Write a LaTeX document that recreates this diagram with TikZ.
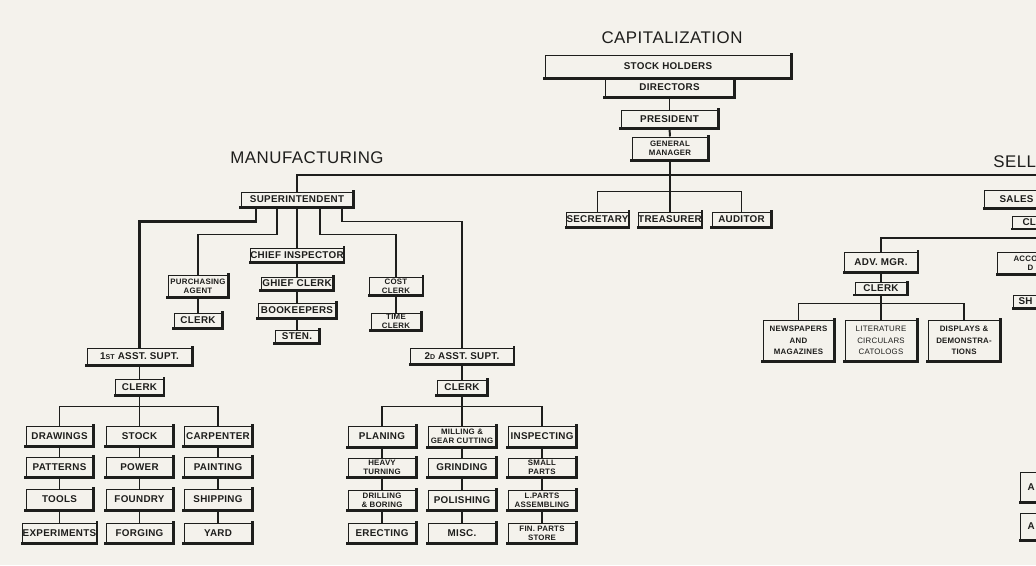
\documentclass[tikz,border=0pt]{standalone}
\usepackage{fontspec}
\newfontfamily\chartfont[LetterSpace=3.0]{Liberation Sans}
\definecolor{paper}{RGB}{244, 242, 236}
\definecolor{ink}{RGB}{30, 30, 28}

\begin{document}
\begin{tikzpicture}[x = 0.025cm, y = -0.025cm,
  thickside/.style = {draw = ink, line width = 1.5pt, line cap = rect},
  box/.style = {draw = ink, line width = 0.7pt, fill = paper, inner sep = 0pt, align = center,
    text = ink, font = \chartfont\bfseries\fontsize{7}{8}\selectfont,
    append after command = {(\tikzlastnode.north east) edge [thickside] (\tikzlastnode.south east)
      (\tikzlastnode.south east) edge [thickside] (\tikzlastnode.south west)}},
  boxsize/.style 2 args = {minimum width = #1*0.025cm, minimum height = #2*0.025cm},
  smalltext/.style = {font = \chartfont\bfseries\fontsize{5.6}{6.4}\selectfont},
  listtext/.style = {font = \chartfont\bfseries\fontsize{5.6}{8}\selectfont},
  cutbox/.style = {anchor = west, align = left, text width = 2cm},
  heading/.style = {font = \chartfont\fontsize{12}{14}\selectfont, text = ink},
  trunk/.style = {draw = ink, line width = 2pt},
  limb/.style = {draw = ink, line width = 1.4pt},
  twig/.style = {draw = ink, line width = 0.9pt}]
\useasboundingbox (0, 0) rectangle (1036, 565);
\clip (0, 0) rectangle (1036, 565);
\fill [paper] (0, 0) rectangle (1036, 565);
%\draw [very thin, color = gray, step = 50] (0, 0) grid (1036, 565);

% top
\node [heading] (captitle) at (672, 38) {CAPITALIZATION};
\node [box, boxsize = {129}{19}] (directors) at (669.5, 87.5) {DIRECTORS};
\node [box, boxsize = {246}{23}] (stockholders) at (668, 66.5) {STOCK HOLDERS};
\node [box, boxsize = {97}{18}] (president) at (669.5, 119) {PRESIDENT};
\node [box, smalltext, boxsize = {76}{23}] (genmanager) at (670, 148.5) {GENERAL\\MANAGER};
\node [box, boxsize = {61}{15}] (secretary) at (597.5, 219.5) {SECRETARY};
\node [box, boxsize = {61}{15}] (treasurer) at (670, 219.5) {TREASURER};
\node [box, boxsize = {59}{15}] (auditor) at (741.5, 219.5) {AUDITOR};

% manufacturing
\node [heading] (manufacturing) at (307, 158) {MANUFACTURING};
\node [box, boxsize = {112}{15}] (superintendent) at (297, 199.5) {SUPERINTENDENT};
\node [box, smalltext, boxsize = {60}{22}] (purchasing) at (198, 286) {PURCHASING\\AGENT};
\node [box, boxsize = {48}{15}] (purchclerk) at (198, 320.5) {CLERK};
\node [box, boxsize = {86}{14}] (chiefinsp) at (297, 255) {CHIEF INSPECTOR};
\node [box, boxsize = {72}{13}] (chiefclerk) at (297, 283.5) {GHIEF CLERK};
\node [box, boxsize = {78}{15}] (bookkeepers) at (297, 310.5) {BOOKEEPERS};
\node [box, boxsize = {44}{13}] (sten) at (297, 336.5) {STEN.};
\node [box, smalltext, boxsize = {53}{18}] (costclerk) at (396, 286) {COST\\CLERK};
\node [box, smalltext, boxsize = {50}{17}] (timeclerk) at (396, 321.5) {TIME\\CLERK};

\node [box, boxsize = {105}{17}] (firstasst) at (139.5, 356.5) {1{\fontsize{5}{6}\selectfont ST} ASST. SUPT.};
\node [box, boxsize = {48}{16}] (firstclerk) at (139.5, 387) {CLERK};
\node [box, boxsize = {67}{20}] (drawings) at (59.5, 436) {DRAWINGS};
\node [box, boxsize = {67}{20}] (patterns) at (59.5, 467) {PATTERNS};
\node [box, boxsize = {67}{21}] (tools) at (59.5, 499.5) {TOOLS};
\node [box, boxsize = {67}{20}] (experiments) at (59.5, 533) {EXPERIMENTS};
\node [box, boxsize = {67}{20}] (stock) at (139.5, 436) {STOCK};
\node [box, boxsize = {67}{20}] (power) at (139.5, 467) {POWER};
\node [box, boxsize = {67}{21}] (foundry) at (139.5, 499.5) {FOUNDRY};
\node [box, boxsize = {67}{20}] (forging) at (139.5, 533) {FORGING};
\node [box, boxsize = {68}{20}] (carpenter) at (218, 436) {CARPENTER};
\node [box, boxsize = {68}{20}] (painting) at (218, 467) {PAINTING};
\node [box, boxsize = {68}{21}] (shipping) at (218, 499.5) {SHIPPING};
\node [box, boxsize = {68}{20}] (yard) at (218, 533) {YARD};

\node [box, boxsize = {103}{16}] (secondasst) at (462, 356) {2{\fontsize{5}{6}\selectfont D} ASST. SUPT.};
\node [box, boxsize = {50}{15}] (secondclerk) at (462, 387.5) {CLERK};
\node [box, boxsize = {68}{21}] (planing) at (382, 436.5) {PLANING};
\node [box, smalltext, boxsize = {68}{19}] (heavyturn) at (382, 467.5) {HEAVY\\TURNING};
\node [box, smalltext, boxsize = {68}{20}] (drilling) at (382, 500) {DRILLING\\\& BORING};
\node [box, boxsize = {68}{20}] (erecting) at (382, 533) {ERECTING};
\node [box, smalltext, boxsize = {68}{21}] (milling) at (462, 436.5) {MILLING \&\\GEAR CUTTING};
\node [box, boxsize = {68}{19}] (grinding) at (462, 467.5) {GRINDING};
\node [box, boxsize = {68}{20}] (polishing) at (462, 500) {POLISHING};
\node [box, boxsize = {68}{20}] (misc) at (462, 533) {MISC.};
\node [box, boxsize = {68}{21}] (inspecting) at (542, 436.5) {INSPECTING};
\node [box, smalltext, boxsize = {68}{19}] (smallparts) at (542, 467.5) {SMALL\\PARTS};
\node [box, smalltext, boxsize = {68}{20}] (lparts) at (542, 500) {L.PARTS\\ASSEMBLING};
\node [box, smalltext, boxsize = {68}{20}] (finparts) at (542, 533) {FIN. PARTS\\STORE};

% selling
\node [heading, anchor = west, inner xsep = 0pt] (selling) at (993, 162) {SELL};
\node [box, cutbox, inner xsep = 0.375cm, boxsize = {0}{18}] (salesmgr) at (984, 199) {SALES};
\node [box, cutbox, inner xsep = 0.25cm, boxsize = {0}{12}] (salesclerk) at (1012, 222.5) {CL};
\node [box, cutbox, smalltext, inner xsep = 0.4cm, boxsize = {0}{22}] (accounts) at (997, 263) {ACCO\\\hspace*{10pt}D};
\node [box, cutbox, inner xsep = 0.125cm, boxsize = {0}{13}] (shipdept) at (1013, 301.5) {SH};
\node [box, cutbox, inner xsep = 0.175cm, boxsize = {0}{30}] (agentone) at (1020, 487) {A};
\node [box, cutbox, inner xsep = 0.175cm, boxsize = {0}{27}] (agenttwo) at (1020, 526.5) {A};
\node [box, boxsize = {73}{20}] (advmgr) at (881, 262) {ADV. MGR.};
\node [box, boxsize = {52}{12}] (advclerk) at (881, 288.5) {CLERK};
\node [box, listtext, boxsize = {71}{41}] (newspapers) at (798.5, 340.5) {NEWSPAPERS\\AND\\MAGAZINES};
\node [box, listtext, font = \chartfont\fontsize{5.6}{8}\selectfont, boxsize = {72}{41}] (literature) at (881, 340.5) {LITERATURE\\CIRCULARS\\CATOLOGS};
\node [box, listtext, boxsize = {72}{41}] (displays) at (964, 340.5) {DISPLAYS \&\\DEMONSTRA-\\TIONS};

% lines
\coordinate (mainend) at (1036, 175);
\coordinate (sellend) at (1036, 238);
\draw [limb] (directors.south) -- (president.north);
\draw [limb] (president.south) -- (genmanager.north);
\draw [trunk] (superintendent.north) |- (mainend);
\draw [trunk] (genmanager.south) -- (treasurer.north);
\draw [twig] (secretary.north) -- ++(0, -20) -| (auditor.north);

\draw [trunk] (superintendent.south) ++(-41, 0) -- ++(0, 14) -| (firstasst.north);
\draw [twig] (superintendent.south) ++(-20, 0) -- ++(0, 27) -| (purchasing.north);
\draw [limb] (superintendent.south) -- (chiefinsp.north);
\draw [twig] (superintendent.south) ++(23, 0) -- ++(0, 27) -| (costclerk.north);
\draw [limb] (superintendent.south) ++(45, 0) -- ++(0, 14) -| (secondasst.north);
\draw [twig] (purchasing.south) -- (purchclerk.north);
\draw [twig] (chiefinsp.south) -- (chiefclerk.north) (chiefclerk.south) -- (bookkeepers.north)
  (bookkeepers.south) -- (sten.north);
\draw [twig] (costclerk.south) -- (timeclerk.north);

\draw [limb] (firstasst.south) -- (firstclerk.north);
\draw [twig] (firstclerk.south) -- (stock.north);
\draw [twig] (drawings.north) -- ++(0, -19) -| (carpenter.north);
\draw [twig] (drawings.south) -- (patterns.north) (patterns.south) -- (tools.north) (tools.south) -- (experiments.north);
\draw [twig] (stock.south) -- (power.north) (power.south) -- (foundry.north) (foundry.south) -- (forging.north);
\draw [twig] (carpenter.south) -- (painting.north) (painting.south) -- (shipping.north) (shipping.south) -- (yard.north);

\draw [limb] (secondasst.south) -- (secondclerk.north);
\draw [twig] (secondclerk.south) -- (milling.north);
\draw [twig] (planing.north) -- ++(0, -19) -| (inspecting.north);
\draw [twig] (planing.south) -- (heavyturn.north) (heavyturn.south) -- (drilling.north) (drilling.south) -- (erecting.north);
\draw [twig] (milling.south) -- (grinding.north) (grinding.south) -- (polishing.north) (polishing.south) -- (misc.north);
\draw [twig] (inspecting.south) -- (smallparts.north) (smallparts.south) -- (lparts.north) (lparts.south) -- (finparts.north);

\draw [limb] (advmgr.north) |- (sellend);
\draw [twig] (advmgr.south) -- (advclerk.north);
\draw [twig] (advclerk.south) -- (literature.north);
\draw [twig] (newspapers.north) -- ++(0, -16) -| (displays.north);
\end{tikzpicture}
\end{document}
